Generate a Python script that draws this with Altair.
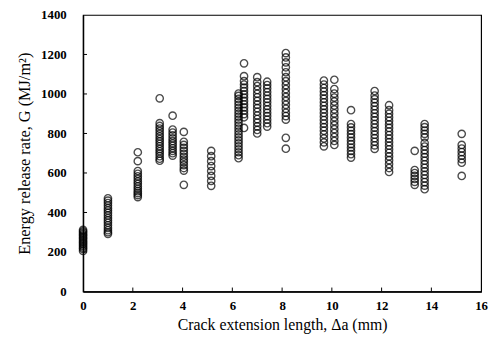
import altair as alt
import pandas as pd

# Crack extension positions (mm) of each measured group
crack_ext = [0.0, 1.0, 2.2, 3.08, 3.6, 4.05, 5.15, 6.25, 6.47, 7.0, 7.4, 8.15,
             9.68, 10.1, 10.77, 11.72, 12.3, 13.33, 13.73, 15.22]

# Energy release rate values (MJ/m^2) for each group
g_values = [
    [205, 215, 222, 230, 238, 245, 252, 260, 268, 275, 283, 290, 298, 305, 312],
    [292, 300, 310, 322, 335, 348, 360, 372, 385, 398, 410, 422, 435, 448, 460, 472],
    [478, 488, 498, 508, 520, 532, 545, 557, 570, 583, 596, 610, 660, 705],
    [662, 672, 685, 698, 710, 722, 735, 748, 760, 772, 785, 798, 812, 825, 838, 852, 978],
    [688, 700, 712, 725, 738, 750, 762, 775, 790, 805, 820, 890],
    [540, 612, 625, 640, 655, 668, 682, 697, 712, 727, 742, 758, 808],
    [535, 560, 585, 610, 635, 660, 685, 712],
    [675, 690, 705, 720, 735, 750, 765, 780, 795, 810, 825, 840, 855, 870, 885, 900,
     915, 930, 945, 960, 975, 990, 1002],
    [828, 882, 898, 915, 932, 948, 965, 982, 998, 1015, 1032, 1048, 1065, 1090, 1155],
    [800, 818, 836, 855, 873, 891, 910, 928, 946, 965, 983, 1001, 1020, 1040, 1060, 1085],
    [835, 852, 870, 888, 905, 922, 940, 958, 975, 992, 1010, 1028, 1045, 1062],
    [723, 778, 870, 888, 905, 925, 945, 965, 985, 1005, 1025, 1045, 1065, 1085, 1110,
     1135, 1160, 1185, 1207],
    [735, 755, 775, 795, 814, 832, 850, 868, 886, 904, 922, 940, 958, 976, 994, 1012,
     1030, 1048, 1068],
    [742, 762, 782, 802, 822, 842, 862, 882, 902, 922, 942, 962, 982, 1002, 1025, 1072],
    [678, 695, 712, 729, 746, 763, 780, 797, 814, 831, 848, 918],
    [722, 740, 758, 776, 794, 812, 830, 848, 866, 884, 902, 920, 938, 956, 974, 992, 1015],
    [605, 625, 645, 665, 684, 702, 720, 738, 756, 774, 792, 810, 828, 846, 864, 882,
     900, 918, 943],
    [540, 555, 570, 585, 600, 615, 712],
    [518, 536, 554, 572, 590, 608, 626, 644, 662, 680, 698, 716, 734, 752, 780, 798,
     815, 832, 848],
    [585, 652, 670, 688, 706, 724, 742, 798],
]

x_ticks = [0, 2, 4, 6, 8, 10, 12, 14, 16]
y_ticks = [0, 200, 400, 600, 800, 1000, 1200, 1400]

rows = []
for xv, gs in zip(crack_ext, g_values):
    for g in gs:
        rows.append({"da": xv, "G": g})
df = pd.DataFrame(rows)

FONT = "Liberation Serif"
W, H = 403, 280

xscale = alt.Scale(domain=[0, 16], nice=False)
yscale = alt.Scale(domain=[0, 1400], nice=False)

common = dict(grid=False, ticks=False, domainColor="black", labelColor="black",
              titleColor="black", labelFont=FONT, titleFont=FONT, labelFontSize=13,
              titleFontWeight="normal", labelFontWeight="bold",
              labelOverlap=False, labelFlush=False, format="d")

x_axis = alt.Axis(values=x_ticks, title="Crack extension length, \u0394a (mm)",
                  labelPadding=8, titlePadding=4, titleFontSize=16, **common)
y_axis = alt.Axis(values=y_ticks, title="Energy release rate, G (MJ/m\u00b2)",
                  labelPadding=17, titlePadding=8, titleFontSize=16.5, **common)

points = alt.Chart(df).mark_point(
    shape="circle", filled=False, color="black", size=55, strokeWidth=1.4
).encode(
    x=alt.X("da:Q", scale=xscale, axis=x_axis),
    y=alt.Y("G:Q", scale=yscale, axis=y_axis),
)

xt = pd.DataFrame({"v": x_ticks[1:-1]})
yt = pd.DataFrame({"v": y_ticks[1:-1]})

x_inner = alt.Chart(xt).mark_rule(color="black", strokeWidth=1).encode(
    x=alt.X("v:Q", scale=xscale, axis=x_axis), y=alt.value(H), y2=alt.value(H - 4))
y_inner = alt.Chart(yt).mark_rule(color="black", strokeWidth=1).encode(
    y=alt.Y("v:Q", scale=yscale, axis=y_axis), x=alt.value(0), x2=alt.value(4))

chart = alt.layer(points, x_inner, y_inner).properties(
    width=W, height=H,
    autosize=alt.AutoSizeParams(type="none"),
    padding={"left": 76, "top": 5, "right": 10, "bottom": 42},
).configure_view(stroke="black", strokeWidth=1.2).configure_axis(domainWidth=1.4)

chart.save("out.html", embed_options={"renderer": "svg", "actions": False})
